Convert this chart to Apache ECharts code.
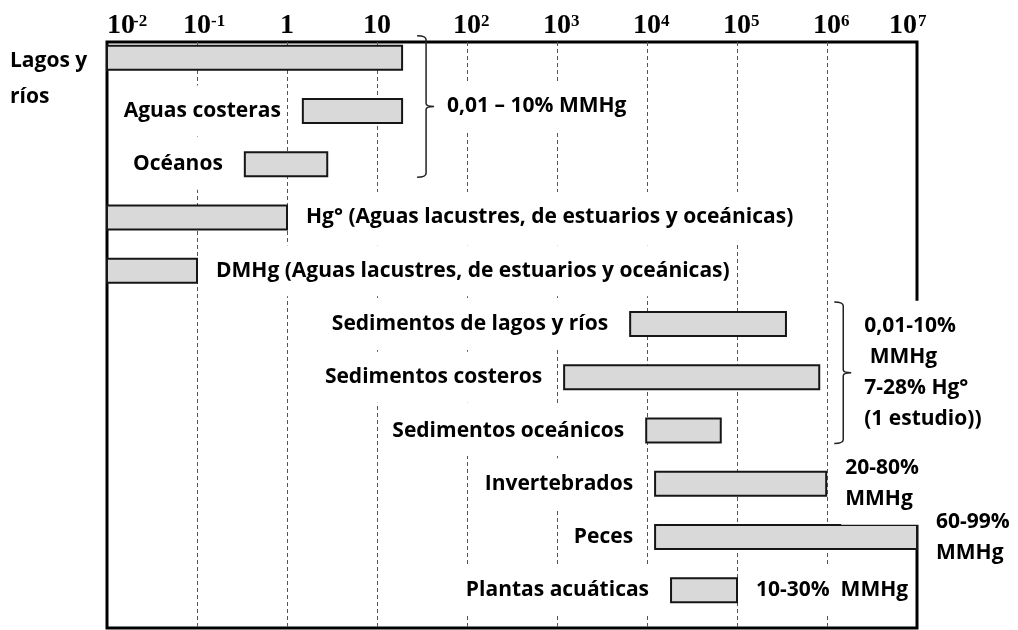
<!DOCTYPE html>
<html><head><meta charset="utf-8">
<script src="https://cdn.jsdelivr.net/npm/echarts@6/dist/echarts.min.js"></script>
<style>html,body{margin:0;padding:0;background:#fff}#chart{width:1018px;height:630px}</style>
</head><body><div id="chart"></div>
<script>
// ---- data ----
const categories = ['Lagos y\nríos', 'Aguas costeras', 'Océanos',
  'Hg° (Aguas lacustres, de estuarios y oceánicas)',
  'DMHg (Aguas lacustres, de estuarios y oceánicas)',
  'Sedimentos de lagos y ríos', 'Sedimentos costeros', 'Sedimentos oceánicos',
  'Invertebrados', 'Peces', 'Plantas acuáticas'];
const nameSide = ['outer', 'left', 'left', 'right', 'right', 'left', 'left', 'left', 'left', 'left', 'left'];
const lowValues = [0.01, 1.5, 0.34, 0.01, 0.01, 6500, 1200, 9800, 12300, 12300, 18500];
const highValues = [19, 19, 2.8, 1, 0.1, 350000, 820000, 66000, 980000, 10000000, 100000];
const rowNotes = ['', '', '', '', '', '', '', '', '20-80%\nMMHg', '60-99%\nMMHg', '10-30%  MMHg'];
const bracketFirst = [0, 5];
const bracketLast = [2, 7];
const bracketNotes = ['0,01 – 10% MMHg', '0,01-10%\n MMHg\n7-28% Hg°\n(1 estudio))'];
const tickBase = ['10', '10', '1', '10', '10', '10', '10', '10', '10', '10'];
const tickSup = ['-2', '-1', '', '', '2', '3', '4', '5', '6', '7'];

// ---- style ----
const FONT = 'bold 21px "Open Sans"';
const BAR_H = 24;
const GAP_L = 18, GAP_R = 15;
const PAD = [10, 4];

const rowData = categories.map((c, i) => [i, lowValues[i], highValues[i]]);
const bracketData = bracketFirst.map((f, k) => {
  let m = 0;
  for (let i = f; i <= bracketLast[k]; i++) m = Math.max(m, highValues[i]);
  return [f, bracketLast[k], m, k];
});
const tickIdx = v => Math.round(Math.log10(v)) + 2;

function textEl(text, x, y, align, extra) {
  return Object.assign({
    type: 'text', x: x, y: y, z2: 10,
    style: {text: text, font: FONT, fill: '#000', align: align, verticalAlign: 'middle',
      backgroundColor: '#fff', padding: PAD, lineHeight: 31}
  }, extra || {});
}

function renderRow(params, api) {
  const i = api.value(0);
  const pLo = api.coord([api.value(1), i]);
  const pHi = api.coord([api.value(2), i]);
  const cy = pLo[1];
  const ch = [{
    type: 'rect', z2: 5,
    shape: {x: pLo[0], y: cy - BAR_H / 2, width: pHi[0] - pLo[0], height: BAR_H},
    style: {fill: '#d9d9d9', stroke: '#161616', lineWidth: 2}
  }];
  const side = nameSide[i];
  if (side === 'left') ch.push(textEl(categories[i], pLo[0] - GAP_L, cy, 'right'));
  else if (side === 'right') ch.push(textEl(categories[i], pHi[0] + GAP_R, cy, 'left'));
  else {
    const el = textEl(categories[i], 10, cy - 15, 'left');
    el.style.verticalAlign = 'top';
    el.style.lineHeight = 36;
    el.style.padding = 0;
    ch.push(el);
  }
  if (rowNotes[i]) ch.push(textEl(rowNotes[i], pHi[0] + GAP_R, cy, 'left', null));
  return {type: 'group', children: ch};
}

function renderBracket(params, api) {
  const pT = api.coord([api.value(2), api.value(0)]);
  const pB = api.coord([api.value(2), api.value(1)]);
  const x0 = pT[0] + 15, x1 = x0 + 9, xt = x1 + 8;
  const y0 = pT[1] - 22, y1 = pB[1] + 13, ym = (y0 + y1) / 2;
  const path = 'M' + x0 + ' ' + y0 + ' Q' + x1 + ' ' + y0 + ' ' + x1 + ' ' + (y0 + 4) +
    ' L' + x1 + ' ' + (ym - 3) + ' Q' + x1 + ' ' + ym + ' ' + xt + ' ' + ym +
    ' Q' + x1 + ' ' + ym + ' ' + x1 + ' ' + (ym + 3) +
    ' L' + x1 + ' ' + (y1 - 4) + ' Q' + x1 + ' ' + y1 + ' ' + x0 + ' ' + y1;
  return {type: 'group', children: [
    {type: 'path', z2: 6, shape: {pathData: path}, style: {fill: 'none', stroke: '#222', lineWidth: 1.5}},
    textEl(bracketNotes[api.value(3)], x0 + 26, ym, 'left', null)
  ]};
}

const supStyle = {fontFamily: 'Liberation Serif', fontWeight: 'bold', fontSize: 17};
const chart = echarts.init(document.getElementById('chart'));
chart.setOption({
  animation: false,
  backgroundColor: '#fff',
  grid: [
    {left: 107, right: 101, top: 42, bottom: 2, show: true, borderColor: '#000', borderWidth: 3, backgroundColor: 'transparent'},
    {left: 107, right: 101, top: 31, bottom: 13}
  ],
  xAxis: [
    {type: 'log', logBase: 10, gridIndex: 0, min: 0.01, max: 10000000, splitNumber: 9, position: 'top',
      axisLine: {show: false}, axisTick: {show: false},
      splitLine: {show: true, showMinLine: false, showMaxLine: false, lineStyle: {color: '#555', type: [4, 3], width: 1}},
      axisLabel: {margin: 2, color: '#000', fontFamily: 'Liberation Serif', fontWeight: 'bold', fontSize: 28,
        alignMinLabel: 'left', alignMaxLabel: 'right',
        formatter: v => tickBase[tickIdx(v)]}},
    {type: 'log', logBase: 10, gridIndex: 0, min: 0.01, max: 10000000, splitNumber: 9, position: 'top', offset: 0,
      axisLine: {show: false}, axisTick: {show: false}, splitLine: {show: false},
      axisLabel: {margin: 12, color: '#000', fontFamily: 'Liberation Serif', fontWeight: 'bold', fontSize: 17, align: 'left',
        formatter: v => {
          const k = tickIdx(v);
          if (!tickSup[k]) return '';
          const st = k === 0 ? 'f' : (k === tickSup.length - 1 ? 'l' : 's');
          return '{' + st + '|' + tickSup[k] + '}';
        },
        rich: {
          s: Object.assign({padding: [0, 0, 0, 14]}, supStyle),
          f: Object.assign({padding: [0, 0, 0, 26]}, supStyle),
          l: Object.assign({padding: [0, 0, 0, 1]}, supStyle)
        }}},
    {type: 'log', logBase: 10, gridIndex: 1, min: 0.01, max: 10000000, show: false}
  ],
  yAxis: [
    {type: 'value', gridIndex: 0, show: false},
    {type: 'category', gridIndex: 1, data: categories, inverse: true, show: false}
  ],
  series: [
    {type: 'custom', xAxisIndex: 2, yAxisIndex: 1, renderItem: renderRow,
      encode: {x: [1, 2], y: 0}, data: rowData, clip: false},
    {type: 'custom', xAxisIndex: 2, yAxisIndex: 1, renderItem: renderBracket,
      encode: {x: 2, y: [0, 1]}, data: bracketData, clip: false}
  ]
});
</script></body></html>
